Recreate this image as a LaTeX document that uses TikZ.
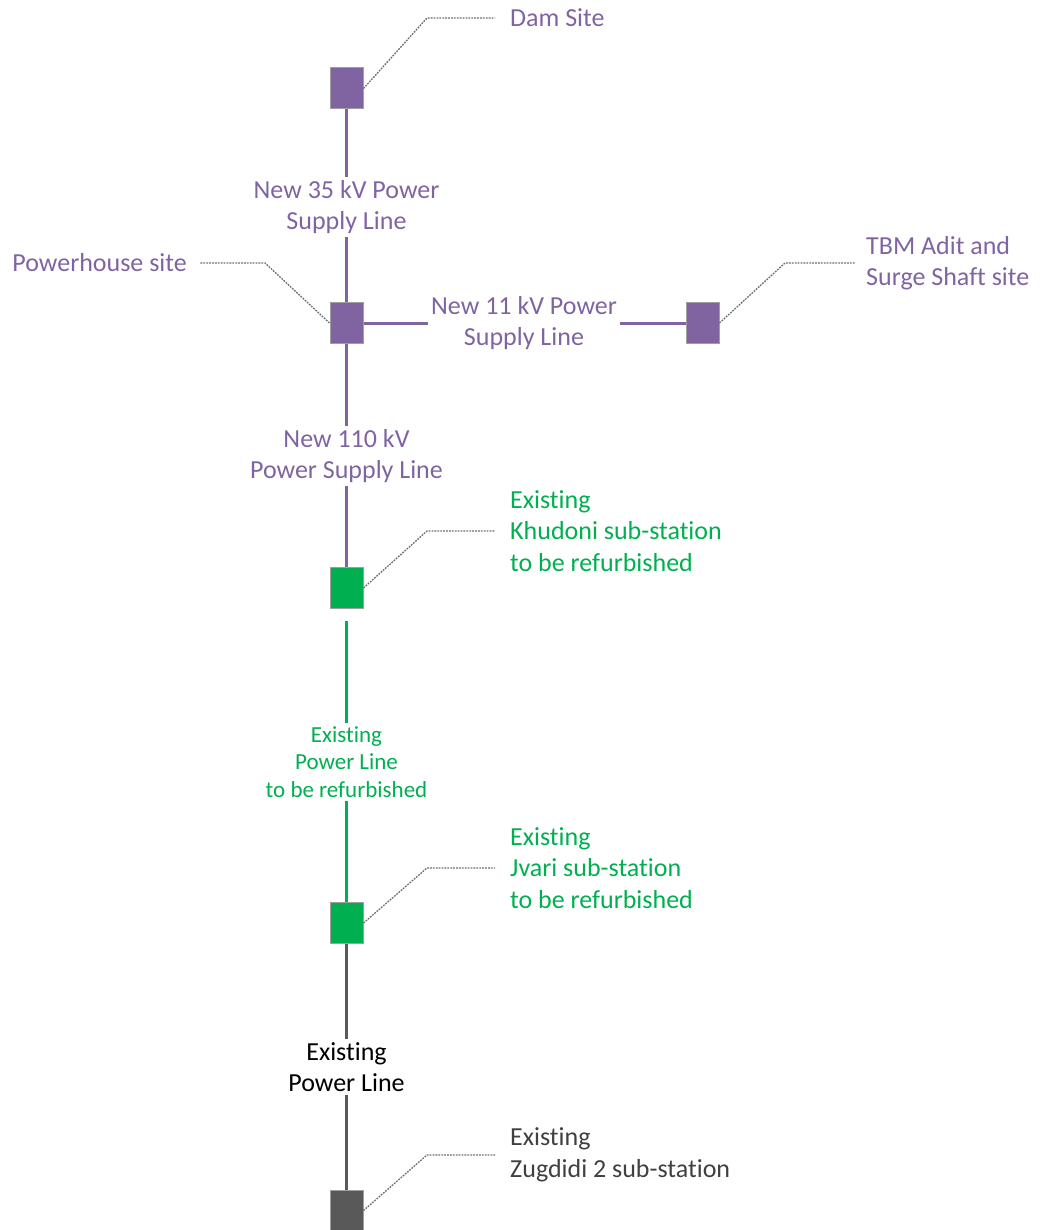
\documentclass[tikz,border=0pt]{standalone}
\usepackage{fontspec}
\setmainfont{Carlito}[RawFeature={-liga;-clig;-calt;-dlig;-rlig}]
\definecolor{pur}{HTML}{8064A2}
\definecolor{grn}{HTML}{00B050}
\definecolor{dkg}{HTML}{595959}
\definecolor{txg}{HTML}{404040}
\definecolor{ldr}{HTML}{6E6E6E}
\begin{document}
\begin{tikzpicture}[x=1pt,y=-1pt,
 site/.style={draw=gray!75, line width=1pt, minimum width=33pt, minimum height=41pt, inner sep=0pt},
 big/.style={font=\fontsize{26}{31.5}\selectfont, inner sep=3pt},
 small/.style={font=\fontsize{23}{27.5}\selectfont, inner sep=3pt},
 wire/.style={line width=3pt},
 leader/.style={draw=ldr, line width=1.3pt, dash pattern=on 1.8pt off 1.1pt}]
\useasboundingbox (0,0) rectangle (1039,1230);
% sites
\node[site, fill=pur] (dam) at (346.5, 88.5) {};
\node[site, fill=pur] (ph) at (346.5, 323) {};
\node[site, fill=pur] (tbm) at (702.5, 323) {};
\node[site, fill=grn] (kh) at (346.5, 588) {};
\node[site, fill=grn] (jv) at (346.5, 923) {};
\node[site, fill=dkg] (zg) at (346.5, 1210.5) {};
% line labels
\node[big, text=pur, align=center] (l35) at (346.5, 207) {New 35 kV Power\\Supply Line};
\node[big, text=pur, align=center] (l11) at (524, 323) {New 11 kV Power\\Supply Line};
\node[big, text=pur, align=center] (l110) at (346.5, 456) {New 110 kV\\Power Supply Line};
\node[small, text=grn, align=center] (lex) at (346.5, 762) {Existing\\Power Line\\to be refurbished};
\node[big, text=black, align=center] (lexb) at (346.5, 1067) {Existing\\Power Line};
% wires
\draw[wire, pur] (dam.south) -- (l35.north);
\draw[wire, pur] (l35.south) -- (ph.north);
\draw[wire, pur] (ph.east) -- (l11.west |- ph.east);
\draw[wire, pur] (l11.east |- tbm.west) -- (tbm.west);
\draw[wire, pur] (ph.south) -- (l110.north);
\draw[wire, pur] (l110.south) -- (kh.north);
\draw[wire, grn, shorten <=12pt] (kh.south) -- (lex.north);
\draw[wire, grn] (lex.south) -- (jv.north);
\draw[wire, dkg] (jv.south) -- (lexb.north);
\draw[wire, dkg] (lexb.south) -- (zg.north);
% site labels
\node[big, text=pur, anchor=west] (tdam) at (507, 18) {Dam Site};
\node[big, text=pur, anchor=east] (tph) at (190, 263) {Powerhouse site};
\node[big, text=pur, anchor=west, align=left] (ttbm) at (863, 263) {TBM Adit and\\Surge Shaft site};
\node[big, text=grn, anchor=west, align=left] (tkh) at (507, 531) {Existing\\Khudoni sub-station\\to be refurbished};
\node[big, text=grn, anchor=west, align=left] (tjv) at (507, 868) {Existing\\Jvari sub-station\\to be refurbished};
\node[big, text=txg, anchor=west, align=left] (tzg) at (507, 1155) {Existing\\Zugdidi 2 sub-station};
% leader elbows
\coordinate (edam) at (427, 18);
\coordinate (eph) at (265, 263);
\coordinate (etbm) at (785, 263);
\coordinate (ekh) at (427, 531);
\coordinate (ejv) at (427, 868);
\coordinate (ezg) at (427, 1155);
% leaders
\draw[leader, shorten >=12pt] (dam.east) -- (edam) -- (tdam.west);
\draw[leader, shorten >=10pt] (ph.west) -- (eph) -- (tph.east);
\draw[leader, shorten >=8pt] (tbm.east) -- (etbm) -- (ttbm.west);
\draw[leader, shorten >=12pt] (kh.east) -- (ekh) -- (tkh.west);
\draw[leader, shorten >=12pt] (jv.east) -- (ejv) -- (tjv.west);
\draw[leader, shorten >=12pt] (zg.east) -- (ezg) -- (tzg.west);
\end{tikzpicture}
\end{document}
